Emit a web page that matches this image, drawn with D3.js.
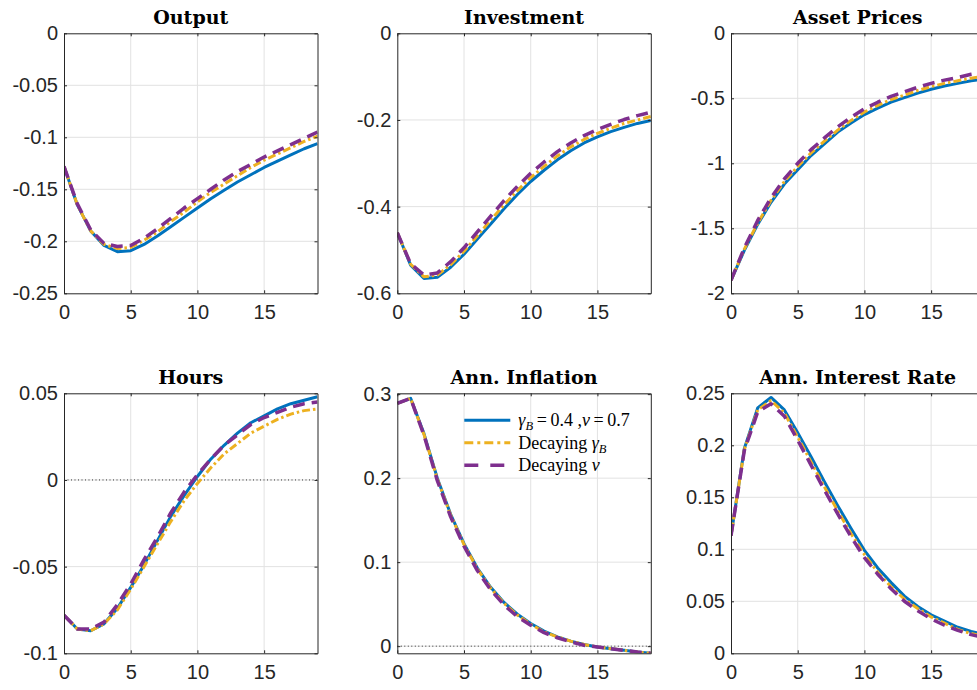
<!DOCTYPE html>
<html>
<head>
<meta charset="utf-8">
<script src="https://cdn.jsdelivr.net/npm/d3@7"></script>
<style>
  body { margin: 0; background: #fff; }
  svg { display: block; }
</style>
</head>
<body>
<div id="chart"></div>
<script>
//Periodos (eje X)
const periods = [0,1,2,3,4,5,6,7,8,9,10,11,12,13,14,15,16,17,18,19];
const xTicks = [0,5,10,15];

//Series: base (gammaB=0.4, nu=0.7), decaying gammaB, decaying nu
const outputBase  = [-0.128,-0.165,-0.19,-0.204,-0.21,-0.209,-0.203,-0.195,-0.186,-0.177,-0.168,-0.159,-0.151,-0.143,-0.136,-0.129,-0.123,-0.117,-0.111,-0.106];
const outputGamma = [-0.128,-0.165,-0.19,-0.203,-0.207,-0.206,-0.199,-0.191,-0.181,-0.172,-0.162,-0.153,-0.145,-0.137,-0.129,-0.122,-0.116,-0.11,-0.104,-0.099];
const outputNu    = [-0.128,-0.164,-0.189,-0.202,-0.205,-0.204,-0.197,-0.188,-0.178,-0.168,-0.159,-0.15,-0.141,-0.133,-0.126,-0.119,-0.113,-0.107,-0.101,-0.095];
const outputTicks = [0,-0.05,-0.1,-0.15,-0.2,-0.25];

const invBase  = [-0.46,-0.535,-0.566,-0.563,-0.54,-0.51,-0.475,-0.44,-0.405,-0.372,-0.342,-0.316,-0.292,-0.271,-0.253,-0.239,-0.227,-0.217,-0.208,-0.201];
const invGamma = [-0.46,-0.533,-0.562,-0.558,-0.534,-0.503,-0.467,-0.431,-0.396,-0.363,-0.333,-0.307,-0.283,-0.262,-0.245,-0.231,-0.219,-0.208,-0.2,-0.192];
const invNu    = [-0.46,-0.532,-0.558,-0.553,-0.527,-0.495,-0.458,-0.422,-0.386,-0.353,-0.323,-0.297,-0.273,-0.253,-0.236,-0.222,-0.21,-0.199,-0.19,-0.182];
const invTicks = [0,-0.2,-0.4,-0.6];

const assetBase  = [-1.9,-1.67,-1.47,-1.3,-1.16,-1.05,-0.94,-0.85,-0.76,-0.69,-0.625,-0.575,-0.53,-0.495,-0.46,-0.43,-0.405,-0.385,-0.365,-0.35];
const assetGamma = [-1.9,-1.66,-1.46,-1.285,-1.14,-1.025,-0.92,-0.83,-0.745,-0.67,-0.605,-0.555,-0.51,-0.475,-0.44,-0.41,-0.385,-0.365,-0.345,-0.33];
const assetNu    = [-1.9,-1.65,-1.44,-1.265,-1.12,-1.0,-0.895,-0.805,-0.72,-0.645,-0.58,-0.53,-0.485,-0.45,-0.415,-0.385,-0.36,-0.34,-0.315,-0.3];
const assetTicks = [0,-0.5,-1,-1.5,-2];

const hoursBase  = [-0.078,-0.086,-0.087,-0.083,-0.074,-0.062,-0.049,-0.035,-0.021,-0.009,0.002,0.012,0.02,0.027,0.033,0.037,0.041,0.044,0.046,0.048];
const hoursGamma = [-0.078,-0.086,-0.087,-0.083,-0.075,-0.063,-0.05,-0.037,-0.024,-0.012,-0.002,0.007,0.015,0.021,0.027,0.031,0.035,0.038,0.04,0.041];
const hoursNu    = [-0.078,-0.086,-0.086,-0.082,-0.072,-0.06,-0.046,-0.033,-0.019,-0.007,0.003,0.012,0.02,0.026,0.032,0.036,0.039,0.042,0.044,0.045];
const hoursTicks = [0.05,0,-0.05,-0.1];

const inflBase  = [0.289,0.295,0.253,0.2,0.157,0.122,0.093,0.07,0.052,0.038,0.027,0.018,0.011,0.006,0.002,-0.001,-0.003,-0.005,-0.007,-0.0085];
const inflGamma = [0.289,0.295,0.252,0.199,0.156,0.121,0.092,0.069,0.051,0.037,0.026,0.017,0.011,0.006,0.002,-0.001,-0.003,-0.005,-0.007,-0.0085];
const inflNu    = [0.289,0.295,0.251,0.197,0.154,0.119,0.09,0.067,0.049,0.035,0.025,0.016,0.01,0.005,0.001,-0.001,-0.003,-0.005,-0.007,-0.0085];
const inflTicks = [0,0.1,0.2,0.3];

const rateBase  = [0.113,0.197,0.236,0.246,0.234,0.212,0.189,0.165,0.142,0.12,0.099,0.082,0.068,0.055,0.045,0.037,0.031,0.025,0.021,0.018];
const rateGamma = [0.113,0.196,0.234,0.243,0.231,0.208,0.184,0.16,0.137,0.115,0.095,0.078,0.064,0.052,0.043,0.035,0.029,0.023,0.019,0.016];
const rateNu    = [0.113,0.195,0.232,0.24,0.228,0.205,0.181,0.157,0.134,0.112,0.092,0.076,0.062,0.05,0.041,0.033,0.027,0.022,0.018,0.015];
const rateTicks = [0,0.05,0.1,0.15,0.2,0.25];

//Colores MATLAB
const COLOR_BLUE = '#0072BD',
COLOR_YELLOW = '#EDB120',
COLOR_PURPLE = '#7E2F8E',
COLOR_AXIS = '#262626',
COLOR_GRID = '#e2e2e2';

const seriesStyle = [
    { color: COLOR_BLUE, width: 3, dash: null, legendDash: null },
    { color: COLOR_YELLOW, width: 3, dash: '8,3,2.5,3', legendDash: '9,4,3,4' },
    { color: COLOR_PURPLE, width: 3.5, dash: '12,7', legendDash: '14,12' }
];

const panels = [
    { title: 'Output', series: [outputBase, outputGamma, outputNu], domain: [-0.25, 0], ticks: outputTicks, left: 64, top: 33.3 },
    { title: 'Investment', series: [invBase, invGamma, invNu], domain: [-0.6, 0], ticks: invTicks, left: 397.3, top: 33.3 },
    { title: 'Asset Prices', series: [assetBase, assetGamma, assetNu], domain: [-2, 0], ticks: assetTicks, left: 731, top: 33.3 },
    { title: 'Hours', series: [hoursBase, hoursGamma, hoursNu], domain: [-0.1, 0.05], ticks: hoursTicks, left: 64, top: 393.3 },
    { title: 'Ann. Inflation', series: [inflBase, inflGamma, inflNu], domain: [-0.0085, 0.301], ticks: inflTicks, left: 397.3, top: 393.3, legend: true },
    { title: 'Ann. Interest Rate', series: [rateBase, rateGamma, rateNu], domain: [0, 0.25], ticks: rateTicks, left: 731, top: 393.3 }
];

const W = 977, H = 690, pw = 253.5, ph = 260;

let svg = d3.select('#chart').append('svg')
    .attr('width', W)
    .attr('height', H);

panels.forEach(function(p, i) {
    let g = svg.append('g').attr('transform', 'translate(' + p.left + ',' + p.top + ')');

    let x = d3.scaleLinear().domain([0, 19]).range([0, pw]);
    let y = d3.scaleLinear().domain(p.domain).range([ph, 0]);

    //Grid
    g.append('g').selectAll('line.gx').data(xTicks.filter(d => d > 0)).enter().append('line')
        .attr('x1', d => x(d)).attr('x2', d => x(d))
        .attr('y1', 0).attr('y2', ph)
        .attr('stroke', COLOR_GRID).attr('stroke-width', 1);
    g.append('g').selectAll('line.gy').data(p.ticks.filter(d => d > p.domain[0] && d < p.domain[1])).enter().append('line')
        .attr('x1', 0).attr('x2', pw)
        .attr('y1', d => y(d)).attr('y2', d => y(d))
        .attr('stroke', COLOR_GRID).attr('stroke-width', 1);

    //Linea de cero punteada
    if (0 > p.domain[0] && 0 < p.domain[1]) {
        g.append('line')
            .attr('x1', 0).attr('x2', pw)
            .attr('y1', y(0)).attr('y2', y(0))
            .attr('stroke', '#000').attr('stroke-width', 0.8)
            .attr('stroke-dasharray', '1,2.5');
    }

    //Clip
    g.append('clipPath').attr('id', 'clip' + i)
        .append('rect').attr('width', pw).attr('height', ph);

    let line = d3.line()
        .x((d, j) => x(periods[j]))
        .y(d => y(d));

    let lines = g.append('g').attr('clip-path', 'url(#clip' + i + ')');
    p.series.forEach(function(s, k) {
        lines.append('path')
            .datum(s)
            .attr('d', line)
            .attr('fill', 'none')
            .attr('stroke', seriesStyle[k].color)
            .attr('stroke-width', seriesStyle[k].width)
            .attr('stroke-dasharray', seriesStyle[k].dash)
            .attr('stroke-linejoin', 'round');
    });

    //Ejes (ticks hacia dentro)
    let fmt = d => String(d);
    let axStyle = function(a) {
        a.selectAll('path').attr('stroke', COLOR_AXIS);
        a.selectAll('line').attr('stroke', COLOR_AXIS);
        a.selectAll('text')
            .attr('fill', COLOR_AXIS)
            .style('font-family', '"Liberation Sans", Arial, sans-serif')
            .style('font-size', '20px');
    };

    g.append('g')
        .attr('transform', 'translate(0,' + ph + ')')
        .call(d3.axisBottom(x).tickValues(xTicks).tickFormat(fmt).tickSize(-3).tickSizeOuter(0).tickPadding(12))
        .call(axStyle);
    g.append('g')
        .call(d3.axisLeft(y).tickValues(p.ticks).tickFormat(fmt).tickSize(-3).tickSizeOuter(0).tickPadding(6))
        .call(axStyle);
    g.append('g')
        .call(d3.axisTop(x).tickValues(xTicks).tickFormat('').tickSize(-3).tickSizeOuter(0))
        .call(axStyle);
    g.append('g')
        .attr('transform', 'translate(' + pw + ',0)')
        .call(d3.axisRight(y).tickValues(p.ticks).tickFormat('').tickSize(-3).tickSizeOuter(0))
        .call(axStyle);

    //Titulo
    g.append('text')
        .attr('x', pw / 2)
        .attr('y', -9)
        .attr('text-anchor', 'middle')
        .style('font-family', '"DejaVu Serif", serif')
        .style('font-weight', 'bold')
        .style('font-size', '19px')
        .attr('fill', '#000')
        .text(p.title);

    //Leyenda
    if (p.legend) {
        let lg = g.append('g').attr('transform', 'translate(67,27)');
        let labels = [
            [['γ', 'i', 0], ['B', 'i', 1], ['\u2009=\u20090.4 ,', 'n', 0], ['ν', 'i', 0], ['\u2009=\u20090.7', 'n', 0]],
            [['Decaying ', 'n', 0], ['γ', 'i', 0], ['B', 'i', 1]],
            [['Decaying ', 'n', 0], ['ν', 'i', 0]]
        ];
        labels.forEach(function(parts, k) {
            let ly = k * 22.5;
            lg.append('line')
                .attr('x1', 0).attr('x2', 46)
                .attr('y1', ly).attr('y2', ly)
                .attr('stroke', seriesStyle[k].color)
                .attr('stroke-width', seriesStyle[k].width)
                .attr('stroke-dasharray', seriesStyle[k].legendDash);
            let t = lg.append('text')
                .attr('x', 54).attr('y', ly + 6)
                .style('font-family', '"Liberation Serif", "Times New Roman", serif')
                .style('font-size', '18px')
                .attr('fill', '#000');
            parts.forEach(function(pt, m) {
                let ts = t.append('tspan').text(pt[0]);
                if (pt[1] === 'i') ts.style('font-style', 'italic');
                if (pt[2] === 1) ts.attr('dy', 4).style('font-size', '12.5px');
                else if (m > 0 && parts[m - 1][2] === 1) ts.attr('dy', -4);
            });
        });
    }
});
</script>
</body>
</html>
